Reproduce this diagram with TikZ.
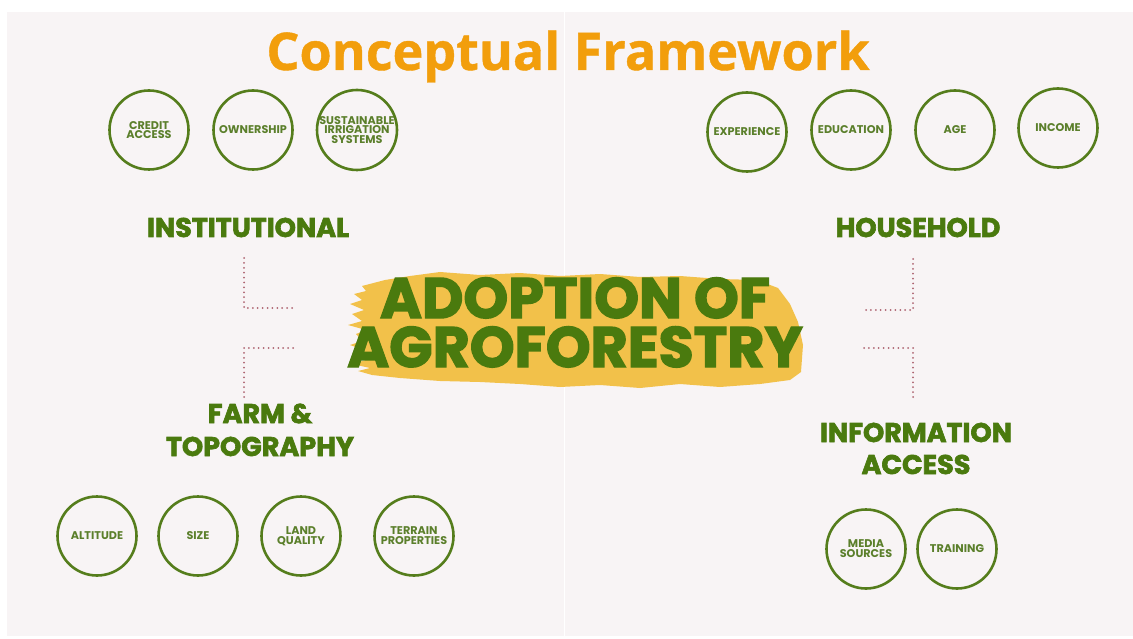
\documentclass[tikz,border=0pt]{standalone}
\usepackage{fontspec}
\setmainfont{Poppins}
\newfontfamily\heavyfont{Poppins}[BoldFeatures={FakeBold=2.4}]
\newfontfamily\titlefont{Open Sans}[BoldFeatures={FakeBold=0.8}]
\definecolor{panelpink}{HTML}{F8F4F5}
\definecolor{ringgreen}{HTML}{557D1C}
\definecolor{factgreen}{HTML}{5B7F2B}
\definecolor{leafgreen}{HTML}{4A7A0E}
\definecolor{titleorange}{HTML}{F29E0C}
\definecolor{brushyellow}{HTML}{F2C14A}
\definecolor{dotred}{HTML}{AE6370}

\begin{document}
\begin{tikzpicture}[x=1pt,y=-1pt,
    factor/.style={circle, draw=ringgreen, line width=2.6pt, minimum size=79pt,
      inner sep=0pt, align=center, text=factgreen,
      font=\bfseries\fontsize{11.2}{9.8}\selectfont},
    group/.style={anchor=base, text=leafgreen,
      font=\heavyfont\bfseries\fontsize{27}{30}\selectfont},
    hub/.style={anchor=base, align=center, text=leafgreen,
      font=\heavyfont\bfseries\fontsize{57}{49}\selectfont},
    link/.style={draw=dotred, line width=2pt, line cap=round,
      dash pattern=on 0pt off 4.9pt}]

    % background
    \fill[white] (0,0) rectangle (1133,639);
    \fill[panelpink] (7,12) rectangle (1133,636);
    \draw[white, line width=1pt] (564,12) -- (564,636);

    \node[anchor=base, text=titleorange,
      font=\titlefont\bfseries\fontsize{52}{60}\selectfont] (ttl) at (568,70)
      {Conceptual Framework};

    % brush stroke behind the hub
    \fill[brushyellow] (362,286) -- (385,280) -- (410,276) -- (440,272)
      -- (480,275) -- (520,273) -- (560,276) -- (600,274) -- (640,277)
      -- (680,276) -- (720,279) -- (757,280) -- (778,288) -- (790,304)
      -- (798,322) -- (803,345) -- (801,372) -- (790,380) -- (760,384)
      -- (720,387) -- (680,384) -- (640,388) -- (600,385) -- (560,387)
      -- (520,384) -- (480,382) -- (440,381) -- (400,378) -- (372,375)
      -- (358,371) -- (370,368) -- (352,364) -- (366,360) -- (355,354)
      -- (364,350) -- (350,345) -- (362,341) -- (356,334) -- (366,330)
      -- (348,325) -- (362,321) -- (352,314) -- (364,310) -- (350,304)
      -- (362,300) -- (354,294) -- (366,291) -- cycle;
    \node[hub] (adop) at (575,367) {ADOPTION OF\\AGROFORESTRY};

    % institutional
    \node[factor] (cred) at (149,130) {CREDIT\\ACCESS};
    \node[factor] (own) at (253,130) {OWNERSHIP};
    \node[factor] (irr) at (357,130) {SUSTAINABLE\\IRRIGATION\\SYSTEMS};
    \node[group] (inst) at (248,237) {INSTITUTIONAL};

    % household
    \node[factor] (exp) at (747,132) {EXPERIENCE};
    \node[factor] (edu) at (851,130) {EDUCATION};
    \node[factor] (age) at (955,130) {AGE};
    \node[factor] (inc) at (1058,128) {INCOME};
    \node[group] (hous) at (918,237) {HOUSEHOLD};

    % farm and topography
    \node[group] (farm) at (260,423) {FARM \&};
    \node[group] (topo) at (260,456) {TOPOGRAPHY};
    \node[factor] (alt) at (97,536) {ALTITUDE};
    \node[factor] (size) at (198,536) {SIZE};
    \node[factor] (land) at (301,536) {LAND\\QUALITY};
    \node[factor] (terr) at (414,536) {TERRAIN\\PROPERTIES};

    % information access
    \node[group] (info) at (916,442) {INFORMATION};
    \node[group] (acc) at (916,474) {ACCESS};
    \node[factor] (med) at (866,549) {MEDIA\\SOURCES};
    \node[factor] (trn) at (957,549) {TRAINING};

    % dotted elbows
    \coordinate (inst-a) at (244,258);
    \coordinate (inst-b) at (293,308);
    \coordinate (farm-a) at (293,348);
    \coordinate (farm-b) at (244,400);
    \coordinate (hous-a) at (913,259);
    \coordinate (hous-b) at (864,310);
    \coordinate (info-a) at (864,348);
    \coordinate (info-b) at (913,400);
    \draw[link] (inst-a) |- (inst-b);
    \draw[link] (farm-a) -| (farm-b);
    \draw[link] (hous-a) |- (hous-b);
    \draw[link] (info-a) -| (info-b);
  \end{tikzpicture}
\end{document}
